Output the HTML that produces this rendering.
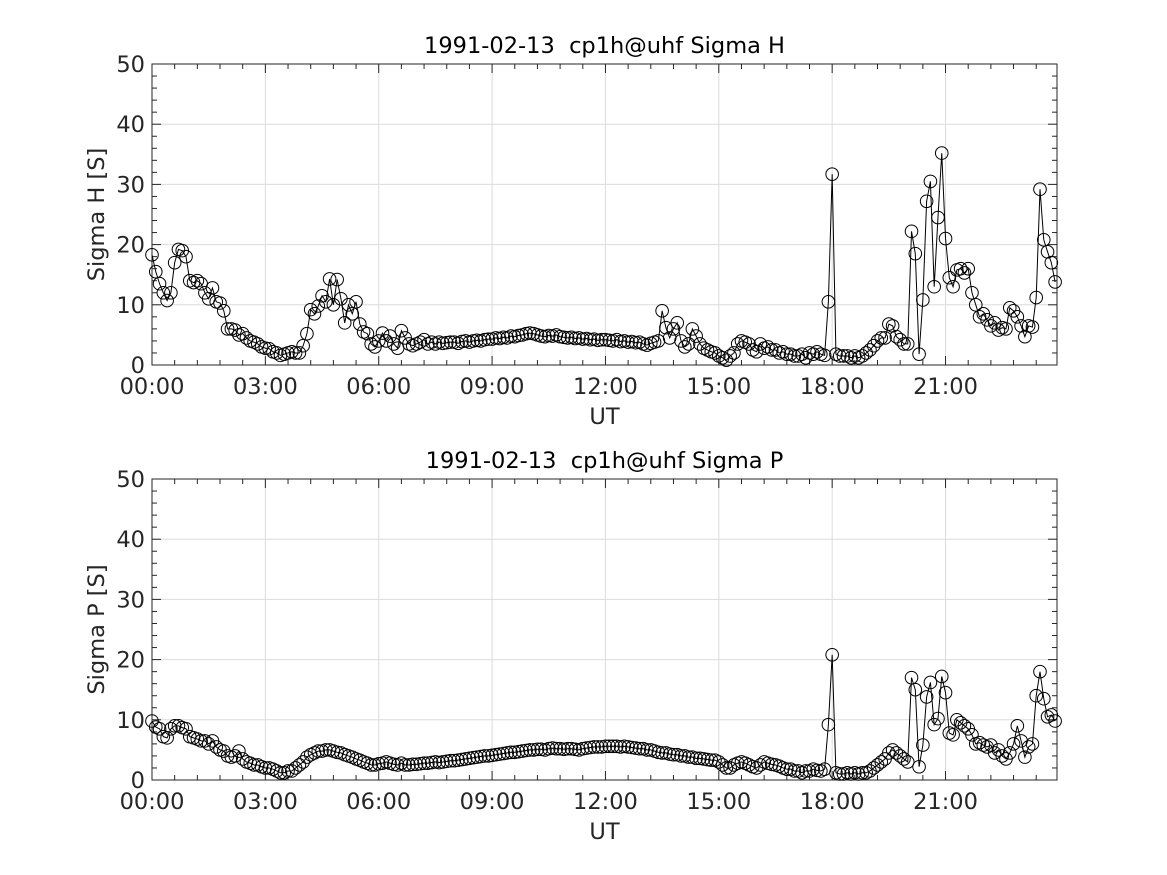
<!DOCTYPE html>
<html><head><meta charset="utf-8"><style>
body{margin:0;background:#fff;}
svg{display:block;font-family:"DejaVu Sans","Liberation Sans",sans-serif;}
text{white-space:pre;}
</style></head><body>
<svg id="fig" width="1167" height="875"></svg>
<script>
const hVals=[18.3,15.5,13.5,12,10.7,12,17,19.2,19,18,
14,13.7,14,13.5,12,11,12.8,10.5,10.3,9,
6,6,5.8,5,5.2,4.5,4,3.8,3.5,3,
2.8,2.7,2.2,2,1.6,1.8,2,2.2,2,2,
3.2,5.2,9.2,8.5,9.8,11.5,10.5,14.3,10,14.2,
11,7,10,8.5,10.5,6.8,5.5,5.2,3.5,3,
4,5.3,4,4.8,3.5,2.8,5.7,4.5,3.5,3.2,
3.5,3.8,4.2,3.5,3.8,3.5,3.8,3.6,3.7,3.8,
3.8,3.6,3.9,4,3.8,4,4.1,4,4.2,4.3,
4.3,4.5,4.4,4.6,4.5,4.8,4.7,4.9,5,5.2,
5.3,5.2,5,4.8,4.7,4.9,4.8,5,4.7,4.6,
4.5,4.6,4.4,4.5,4.3,4.4,4.2,4.3,4.1,4.2,
4.2,4.1,4,4.2,3.9,4,3.8,3.9,3.7,3.8,
3.5,3.3,3.6,3.8,4,9,6.2,4.5,6,7,
4,3,3.5,6,4.8,3.5,2.8,2.5,2.2,2,
1.5,1.2,0.8,1.5,2,3.5,4,3.8,3.5,2.5,
2.2,3.5,2.8,3,2.5,2.5,2,2.2,1.8,1.8,
1.5,1.5,1.8,1.2,2,1.8,2.2,1.8,1.6,10.5,
31.7,1.8,1.5,1.5,1.5,1.2,1.5,1.2,1.5,2,
2.5,3.2,4,4.5,4.5,6.8,6.5,4.7,4.2,3.5,
3.5,22.2,18.5,1.8,10.8,27.2,30.5,13,24.5,35.2,
21,14.5,13,15.8,16,15.3,16,12,10,8,
8.5,7.5,6.5,7,5.8,6.2,6,9.5,9,8,
6.5,4.7,6.5,6.3,11.2,29.2,20.8,18.8,17,13.8];
const pVals=[9.8,8.8,8.5,7.2,7,8.5,9,9,8.7,8.5,
7.2,7,6.8,6.5,6.5,6,6.5,5.5,5,4.8,
4,3.8,4,4.8,3.5,3,2.8,2.5,2.5,2.2,
2,2,1.8,1.5,1.2,1.2,1.5,1.5,2,2.5,
3,3.8,4.2,4.5,4.8,4.8,5,5,4.8,4.6,
4.5,4.2,4,3.8,3.5,3.3,3,2.8,2.5,2.5,
2.7,2.8,3,2.8,2.6,2.5,2.8,2.5,2.5,2.6,
2.6,2.7,2.8,2.8,2.9,3,2.9,3,3.1,3.2,
3.2,3.3,3.4,3.5,3.6,3.7,3.8,3.9,4,4,
4.1,4.2,4.3,4.4,4.5,4.6,4.6,4.7,4.8,4.9,
5,5,5.1,5.1,5,5.2,5.3,5.2,5.2,5.1,
5.2,5.2,5.1,5,5.2,5.3,5.4,5.5,5.5,5.5,
5.6,5.6,5.6,5.6,5.5,5.6,5.5,5.4,5.3,5.2,
5.2,5,5,4.8,4.6,4.5,4.5,4.3,4.2,4.2,
4,4,3.8,3.8,3.6,3.6,3.5,3.4,3.3,3.3,
3,2.5,2,2,2.5,2.8,3,2.8,2.5,2.2,
2,2.5,3,2.8,2.6,2.5,2.3,2,1.8,1.8,
1.5,1.5,1.2,1.5,1.5,1.8,1.6,1.5,1.8,9.2,
20.8,1.2,1,1,1.2,1,1.2,1,1.2,1.2,
1.5,2,2.5,3,3.5,4.5,5,4.5,4,3.5,
3,17,15,2.2,5.8,13.8,16.2,9.2,10.2,17.2,
14.5,7.8,7.5,10,9.5,9,8.5,7.5,6,6.2,
5.8,5.5,5.8,4.5,5,4,3.5,4.5,6,9,
6.5,3.8,5.5,6,14,18,13.5,10.5,10.8,9.8];
const xTickLabels=["00:00","03:00","06:00","09:00","12:00","15:00","18:00","21:00"];
const yTickLabels=["0","10","20","30","40","50"];
const titles=["1991-02-13  cp1h@uhf Sigma H","1991-02-13  cp1h@uhf Sigma P"];
const yLabels=["Sigma H [S]","Sigma P [S]"];
const NS="http://www.w3.org/2000/svg";
const svg=document.getElementById('fig');
function mk(tag,attrs,parent){const e=document.createElementNS(NS,tag);for(const k in attrs)e.setAttribute(k,attrs[k]);(parent||svg).appendChild(e);return e;}
function panel(top,vals,title,ylab,pname){
  const L=152,R=1057,T=top,B=top+301,XMAX=23.95,YMAX=50;
  const sx=h=>L+(h/XMAX)*(R-L), sy=v=>B-(v/YMAX)*(B-T);
  const g=mk('g',{});
  
  
  mk('rect',{x:L,y:T,width:R-L,height:B-T,fill:'#fff'},g);
  for(let i=0;i<xTickLabels.length;i++){const x=sx(i*3);
    const gl=mk('line',{x1:x,x2:x,y1:T,y2:B,stroke:'#dcdcdc','stroke-width':1},g);
    }
  for(let i=0;i<yTickLabels.length;i++){const y=sy(+yTickLabels[i]);
    const gl=mk('line',{x1:L,x2:R,y1:y,y2:y,stroke:'#dcdcdc','stroke-width':1},g);
    }
  for(let m=0;m*0.6<=XMAX;m++){const x=sx(m*0.6);const len=(m%5==0)?9:5;
    mk('line',{x1:x,x2:x,y1:B,y2:B-len,stroke:'#262626'},g);mk('line',{x1:x,x2:x,y1:T,y2:T+len,stroke:'#262626'},g);}
  for(let m=0;m<=25;m++){const y=sy(m*2);const len=(m%5==0)?9:5;
    mk('line',{x1:L,x2:L+len,y1:y,y2:y,stroke:'#262626'},g);mk('line',{x1:R,x2:R-len,y1:y,y2:y,stroke:'#262626'},g);}
  mk('rect',{x:L,y:T,width:R-L,height:B-T,fill:'none',stroke:'#262626','stroke-width':1},g);
  xTickLabels.forEach((t,i)=>{const e=mk('text',{x:sx(i*3),y:B+29,'text-anchor':'middle','font-size':22.5,fill:'#262626'},g);e.textContent=t;
    });
  yTickLabels.forEach(t=>{const e=mk('text',{x:L-7,y:sy(+t)+8,'text-anchor':'end','font-size':22.5,fill:'#262626'},g);e.textContent=t;
    });
  const xl=mk('text',{x:(L+R)/2,y:B+59,'text-anchor':'middle','font-size':22.5,fill:'#262626'},g);xl.textContent='UT';
  
  const yl=mk('text',{x:0,y:0,'text-anchor':'middle','font-size':22.5,fill:'#262626',transform:`translate(104,${(T+B)/2}) rotate(-90)`},g);yl.textContent=ylab;
  
  const tt=mk('text',{x:(L+R)/2,y:T-11,'text-anchor':'middle','font-size':22.5,fill:'#000'},g);tt.textContent=title;
  
  const pts=vals.map((v,i)=>[sx(i*0.1),sy(v)]);
  const ln=mk('polyline',{points:pts.map(p=>p.join(',')).join(' '),fill:'none',stroke:'#000','stroke-width':1},g);
  
  pts.forEach(p=>{const c=mk('circle',{cx:p[0],cy:p[1],r:6.3,fill:'none',stroke:'#000','stroke-width':1},g);
    });
}
panel(64,hVals,titles[0],yLabels[0],'sigma-h-panel');
panel(479,pVals,titles[1],yLabels[1],'sigma-p-panel');
</script>
</body></html>
